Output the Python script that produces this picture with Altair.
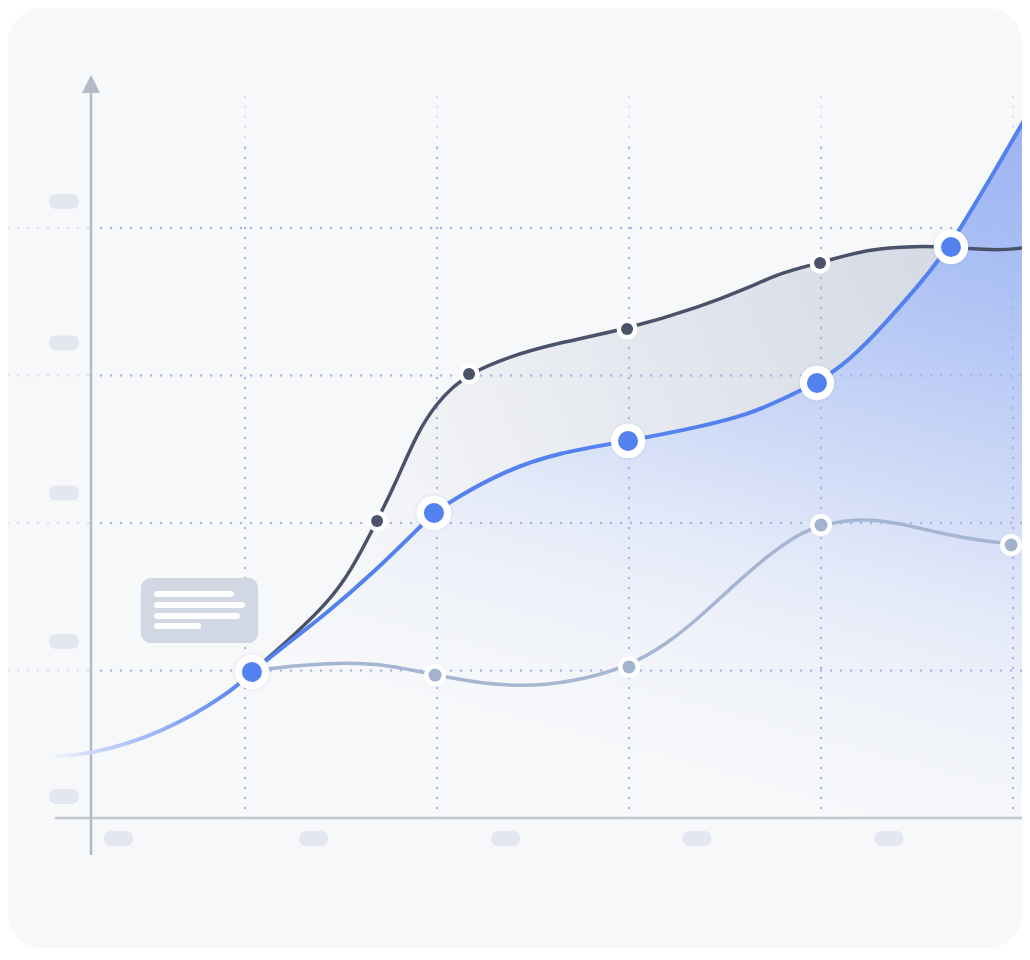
import altair as alt
import pandas as pd

# ---------------- data (chart units) ----------------
# main (blue) series – curve points
blue_x = [-0.016, 0.193, 0.573, 0.922, 1.036, 1.198, 1.427, 1.667, 1.911, 1.984, 2.104, 2.365, 2.625,
          2.995, 3.370, 3.630, 3.802, 3.979, 4.151, 4.323, 4.500, 4.677, 5.089, 5.297]
blue_y = [0.414, 0.427, 0.576, 0.847, 0.990, 1.159, 1.390, 1.661, 1.973, 2.068, 2.176, 2.359, 2.475,
          2.556, 2.651, 2.739, 2.841, 2.949, 3.105, 3.336, 3.600, 3.871, 4.800, 5.275]
blue_pts_x = [1.036, 1.984, 2.995, 3.979, 4.677]
blue_pts_y = [0.990, 2.068, 2.556, 2.949, 3.871]

# dark series
dark_x = [1.036, 1.286, 1.427, 1.547, 1.688, 1.792, 1.896, 2.000, 2.083, 2.167, 2.365, 2.625, 2.990,
          3.370, 3.630, 3.802, 3.995, 4.240, 4.500, 4.672, 4.932, 5.089]
dark_y = [0.990, 1.275, 1.458, 1.661, 2.014, 2.292, 2.610, 2.814, 2.922, 3.010, 3.125, 3.220, 3.315,
          3.464, 3.600, 3.702, 3.763, 3.858, 3.878, 3.871, 3.844, 3.871]
dark_pts_x = [1.688, 2.167, 2.990, 3.995]
dark_pts_y = [2.014, 3.010, 3.315, 3.763]

# light series
light_x = [1.036, 1.130, 1.495, 1.755, 1.990, 2.188, 2.448, 2.708, 2.995, 3.198, 3.370, 3.542, 3.719,
           3.891, 4.000, 4.203, 4.411, 4.672, 4.990, 5.089]
light_y = [0.990, 1.017, 1.058, 1.037, 0.969, 0.922, 0.888, 0.922, 1.024, 1.180, 1.363, 1.573, 1.776,
           1.932, 1.986, 2.034, 2.000, 1.912, 1.851, 1.871]
light_pts_x = [1.990, 3.000, 4.000, 4.990]
light_pts_y = [0.969, 1.024, 1.986, 1.851]

# grid
grid_x = [1, 2, 3, 4, 5]
grid_y = [1, 2, 3, 4]

# tick-label placeholders
ytick_centers = [4.180, 3.220, 2.203, 1.197, 0.146]
xtick_centers = [0.341, 1.357, 2.357, 3.354, 4.354]

# tooltip card and its text lines
card = dict(x=0.458, x2=1.068, y=1.186, y2=1.627)
card_line_end = [0.927, 0.984, 0.958, 0.755]
card_line_y = [1.519, 1.444, 1.369, 1.302]

XD = [-0.234375, 5.046875]
YD = [-0.8814, 5.4915]
AXIS_X = 0.198

# ---------------- helpers ----------------
xs = alt.Scale(domain=XD, nice=False, zero=False)
ys = alt.Scale(domain=YD, nice=False, zero=False)
CURVE = "basis"


def X(f="x"):
    return alt.X(f"{f}:Q", scale=xs, axis=None)


def Y(f="y"):
    return alt.Y(f"{f}:Q", scale=ys, axis=None)


def df(**cols):
    return pd.DataFrame(cols)


BLUE = "#5381ef"
DARK = "#4a5269"
LIGHT = "#a6b5d1"
BG = "#f7f8fa"

# background card
bg = alt.Chart(df(x=[XD[0]], x2=[XD[1]], y=[YD[0]], y2=[YD[1]])).mark_rect(
    cornerRadius=34, color=BG
).encode(x=X(), x2="x2:Q", y=Y(), y2="y2:Q")

# areas
dark_df = df(x=dark_x, y=dark_y, b=[0.0] * len(dark_x))
blue_df = df(x=blue_x, y=blue_y, b=[0.0] * len(blue_x))
light_df = df(x=light_x, y=light_y)

dark_area = alt.Chart(dark_df).mark_area(
    interpolate=CURVE, clip=True,
    fill=alt.LinearGradient(
        gradient="linear", x1=1, y1=0, x2=0, y2=0.3,
        stops=[
            alt.GradientStop(color="rgba(120,135,170,0.30)", offset=0),
            alt.GradientStop(color="rgba(120,135,170,0.15)", offset=0.5),
            alt.GradientStop(color="rgba(120,135,170,0.04)", offset=0.85),
            alt.GradientStop(color="rgba(120,135,170,0.0)", offset=1),
        ],
    ),
).encode(x=X(), y=Y(), y2="b:Q")

blue_area = alt.Chart(blue_df).mark_area(
    interpolate=CURVE, clip=True,
    fill=alt.LinearGradient(
        gradient="linear", x1=0.95, y1=0, x2=0.617, y2=0.943,
        stops=[
            alt.GradientStop(color="#93aef3", offset=0),
            alt.GradientStop(color="#a0b7f4", offset=0.15),
            alt.GradientStop(color="#abc0f4", offset=0.29),
            alt.GradientStop(color="#b6c8f5", offset=0.38),
            alt.GradientStop(color="#cfdaf7", offset=0.56),
            alt.GradientStop(color="#e4eaf9", offset=0.71),
            alt.GradientStop(color="#eef1f9", offset=0.81),
            alt.GradientStop(color="#f5f7fa", offset=0.95),
            alt.GradientStop(color=BG, offset=1),
        ],
    ),
).encode(x=X(), y=Y(), y2="b:Q")

# grid (dotted)
dot = dict(strokeDash=[0.1, 9.9], strokeCap="round", strokeWidth=2.4, color="#a9b5ea")
vgrid_df = pd.concat([
    df(x=grid_x, y=[0.0] * 5, y2=[4.55] * 5, op=[1.0] * 5),
    df(x=grid_x, y=[4.55] * 5, y2=[4.95] * 5, op=[0.35] * 5),
])
vgrid = alt.Chart(vgrid_df).mark_rule(**dot).encode(
    x=X(), y=Y(), y2="y2:Q", opacity=alt.Opacity("op:Q", scale=None, legend=None)
)
hgrid_df = pd.concat([
    df(y=grid_y, x=[XD[0]] * 4, x2=[AXIS_X] * 4, op=[0.4] * 4),
    df(y=grid_y, x=[AXIS_X] * 4, x2=[XD[1]] * 4, op=[1.0] * 4),
])
hgrid = alt.Chart(hgrid_df).mark_rule(**dot).encode(
    x=X(), x2="x2:Q", y=Y(), opacity=alt.Opacity("op:Q", scale=None, legend=None)
)

# axes
yaxis = alt.Chart(df(x=[AXIS_X], y=[-0.251], y2=[4.92])).mark_rule(
    color="#b2bac5", strokeWidth=2.5
).encode(x=X(), y=Y(), y2="y2:Q")
xaxis = alt.Chart(df(x=[0.01], x2=[XD[1]], y=[0.0])).mark_rule(
    color="#c2c7d0", strokeWidth=2.5
).encode(x=X(), x2="x2:Q", y=Y())
arrow = alt.Chart(df(x=[AXIS_X], y=[4.976])).mark_point(
    shape="M0,-1L1,1L-1,1Z", size=330, filled=True, color="#b2bac5", opacity=1
).encode(x=X(), y=Y())

# placeholders
PH = 0.051
yticks = alt.Chart(df(x=[-0.021] * 5, x2=[0.135] * 5,
                      y=[c - PH for c in ytick_centers], y2=[c + PH for c in ytick_centers])).mark_rect(
    cornerRadius=7, color="#e4e7ef"
).encode(x=X(), x2="x2:Q", y=Y(), y2="y2:Q")
PW = 0.0755
xticks = alt.Chart(df(x=[c - PW for c in xtick_centers], x2=[c + PW for c in xtick_centers],
                      y=[-0.139 - PH] * 5, y2=[-0.139 + PH] * 5)).mark_rect(
    cornerRadius=7, color="#e4e7ef"
).encode(x=X(), x2="x2:Q", y=Y(), y2="y2:Q")

# tooltip card
card_rect = alt.Chart(df(**{k: [v] for k, v in card.items()})).mark_rect(
    cornerRadius=10, color="#d2d8e3"
).encode(x=X(), x2="x2:Q", y=Y(), y2="y2:Q")
card_lines = alt.Chart(df(x=[0.542] * 4, x2=card_line_end, y=card_line_y)).mark_rule(
    color="white", strokeWidth=6, strokeCap="round"
).encode(x=X(), x2="x2:Q", y=Y())

# lines
light_line = alt.Chart(light_df).mark_line(
    interpolate=CURVE, color=LIGHT, strokeWidth=3.5, clip=True
).encode(x=X(), y=Y())
dark_line = alt.Chart(dark_df).mark_line(
    interpolate=CURVE, color=DARK, strokeWidth=3.5, clip=True
).encode(x=X(), y=Y())
blue_line = alt.Chart(blue_df).mark_line(
    interpolate=CURVE, strokeWidth=4, clip=True,
    stroke=alt.LinearGradient(
        gradient="linear", x1=0, y1=0, x2=1, y2=0,
        stops=[
            alt.GradientStop(color=BG, offset=0),
            alt.GradientStop(color="#c4d3fa", offset=0.05),
            alt.GradientStop(color="#8fabf5", offset=0.12),
            alt.GradientStop(color=BLUE, offset=0.19),
            alt.GradientStop(color=BLUE, offset=1),
        ],
    ),
).encode(x=X(), y=Y())


def markers(px, py, outer, inner, color, halo=None):
    d = df(x=px, y=py)
    layers = []
    if halo:
        layers.append(alt.Chart(d).mark_circle(size=halo, color="#7f8fb5", opacity=0.06).encode(x=X(), y=Y()))
    layers.append(alt.Chart(d).mark_circle(size=outer, color="white", opacity=1).encode(x=X(), y=Y()))
    layers.append(alt.Chart(d).mark_circle(size=inner, color=color, opacity=1).encode(x=X(), y=Y()))
    return layers


chart = alt.layer(
    bg, dark_area, blue_area, vgrid, hgrid, xaxis, yaxis, arrow, yticks, xticks,
    card_rect, card_lines, light_line, dark_line, blue_line,
    *markers(light_pts_x, light_pts_y, 484, 169, "#a3b3cf"),
    *markers(dark_pts_x, dark_pts_y, 441, 144, DARK),
    *markers(blue_pts_x, blue_pts_y, 1190, 400, BLUE, halo=1500),
).properties(
    width=1014, height=940, padding=0, autosize="none", background="white"
).configure_view(stroke=None)

chart.save("out.html", embed_options={"renderer": "svg", "actions": False})
